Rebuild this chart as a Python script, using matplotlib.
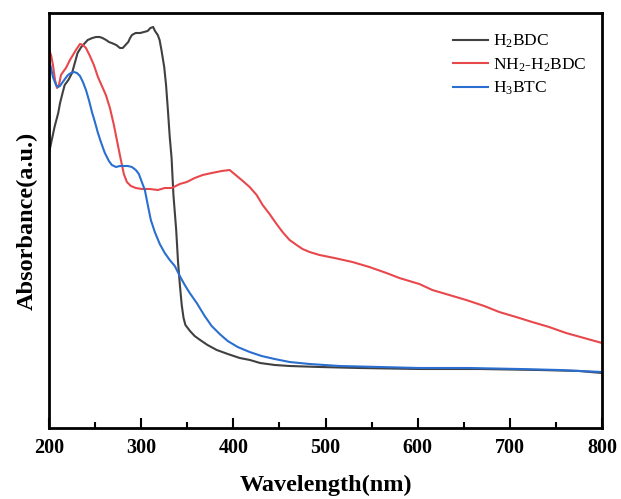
import matplotlib
matplotlib.use("Agg")
import matplotlib.pyplot as plt
from matplotlib.ticker import MultipleLocator

plt.rcParams['font.family'] = ['Liberation Serif', 'DejaVu Serif']
plt.rcParams['mathtext.fontset'] = 'custom'
plt.rcParams['mathtext.rm'] = 'Liberation Serif'
plt.rcParams['mathtext.it'] = 'Liberation Serif:italic'
plt.rcParams['mathtext.bf'] = 'Liberation Serif:bold'

# ---- data ----
wl_h2bdc = [200, 203, 206, 210, 212, 215, 217, 221, 225, 228, 231, 235, 239, 242, 247, 251,
            255, 258, 262, 265, 268, 273, 277, 280, 283, 286, 288, 290, 294, 299, 303, 307,
            310, 313, 315, 318, 320, 322, 325, 327, 329, 331, 333, 335, 338, 340, 342, 344,
            346, 348, 353, 358, 364, 372, 382, 394, 407, 418, 429, 445, 461, 494, 537, 602,
            667, 732, 775, 800]
abs_h2bdc = [2.75, 2.88, 3.01, 3.15, 3.25, 3.36, 3.43, 3.48, 3.55, 3.65, 3.75, 3.81, 3.85, 3.88,
             3.90, 3.91, 3.91, 3.90, 3.88, 3.86, 3.85, 3.83, 3.80, 3.80, 3.83, 3.86, 3.90, 3.93,
             3.95, 3.95, 3.96, 3.97, 4.00, 4.01, 3.97, 3.93, 3.88, 3.78, 3.61, 3.43, 3.18, 2.91,
             2.70, 2.33, 1.98, 1.66, 1.43, 1.23, 1.10, 1.03, 0.97, 0.92, 0.88, 0.83, 0.78, 0.74,
             0.70, 0.68, 0.65, 0.63, 0.62, 0.61, 0.60, 0.59, 0.59, 0.58, 0.57, 0.55]

wl_nh2 = [200, 202.2, 204.3, 206.5, 208.7, 210.8, 213.0, 215.2, 218.4, 222.7, 226.0, 229.2,
          233.6, 236.8, 240.1, 244.4, 248.7, 253.1, 257.4, 261.7, 266.1, 270.4, 274.7, 278.0,
          281.2, 284.5, 288.8, 294.2, 300.7, 309.4, 318.0, 325.6, 333.2, 341.9, 349.5, 358.1,
          366.8, 376.5, 387.4, 396.0, 402.5, 409.0, 417.7, 425.3, 431.8, 439.3, 446.9, 453.4,
          461.0, 468.6, 475.1, 482.7, 493.5, 509.7, 529.2, 547.6, 566.1, 580.1, 601.8, 615.9,
          634.3, 652.7, 672.2, 688.5, 706.8, 724.2, 742.6, 761.0, 780.5, 800]
abs_nh2 = [3.78, 3.73, 3.63, 3.48, 3.40, 3.43, 3.53, 3.56, 3.60, 3.68, 3.73, 3.78, 3.84, 3.83,
           3.80, 3.72, 3.63, 3.51, 3.42, 3.33, 3.20, 3.03, 2.83, 2.68, 2.54, 2.46, 2.42, 2.40,
           2.39, 2.39, 2.38, 2.40, 2.40, 2.44, 2.46, 2.50, 2.53, 2.55, 2.57, 2.58, 2.53, 2.48,
           2.41, 2.33, 2.23, 2.14, 2.04, 1.96, 1.88, 1.83, 1.79, 1.76, 1.73, 1.70, 1.66, 1.61,
           1.55, 1.50, 1.44, 1.38, 1.33, 1.28, 1.22, 1.16, 1.11, 1.06, 1.01, 0.95, 0.90, 0.85]

wl_h3btc = [200, 202.2, 204.3, 207.6, 209.7, 211.9, 214.1, 217.3, 220.6, 223.8, 227.1, 230.3,
            233.6, 236.8, 240.1, 243.3, 246.6, 249.8, 253.1, 256.3, 260.6, 265.0, 268.2, 272.6,
            276.9, 281.2, 285.6, 289.9, 294.2, 297.5, 300.7, 304.0, 307.2, 310.5, 314.8, 320.2,
            325.6, 331.0, 336.5, 341.9, 347.3, 352.7, 360.3, 368.9, 376.5, 385.2, 393.9, 404.7,
            417.7, 430.7, 444.8, 461.0, 482.7, 515.2, 558.5, 601.8, 655.9, 710.1, 753.4, 800]
abs_h3btc = [3.68, 3.60, 3.51, 3.43, 3.41, 3.42, 3.45, 3.49, 3.53, 3.55, 3.56, 3.55, 3.52, 3.46,
             3.38, 3.28, 3.16, 3.06, 2.95, 2.86, 2.75, 2.67, 2.63, 2.61, 2.62, 2.62, 2.62, 2.61,
             2.58, 2.54, 2.46, 2.38, 2.23, 2.08, 1.96, 1.84, 1.75, 1.68, 1.62, 1.52, 1.43, 1.35,
             1.25, 1.12, 1.02, 0.94, 0.87, 0.81, 0.76, 0.72, 0.69, 0.66, 0.64, 0.62, 0.61, 0.60,
             0.60, 0.59, 0.58, 0.56]

labels = ['H$_\\mathrm{2}$BDC', 'NH$_\\mathrm{2}$-H$_\\mathrm{2}$BDC', 'H$_\\mathrm{3}$BTC']
colors = ['#404040', '#e8484c', '#2a6fd0']

fig = plt.figure(figsize=(6.21, 4.99), dpi=100)
ax = fig.add_axes([49/621, 71/499, 553/621, 415/499])

ax.plot(wl_h2bdc, abs_h2bdc, color=colors[0], lw=1.5, label=labels[0])
ax.plot(wl_nh2, abs_nh2, color=colors[1], lw=1.5, label=labels[1])
ax.plot(wl_h3btc, abs_h3btc, color=colors[2], lw=1.5, label=labels[2])

ax.set_xlim(200, 800)
ax.set_ylim(0, 4.15)
ax.xaxis.set_major_locator(MultipleLocator(100))
ax.xaxis.set_minor_locator(MultipleLocator(50))
ax.set_yticks([])
ax.tick_params(axis='x', which='major', direction='in', length=7, width=1.5,
               labelsize=14.5, pad=7)
ax.tick_params(axis='x', which='minor', direction='in', length=4, width=1.5)
for lab in ax.get_xticklabels():
    lab.set_fontweight('bold')
for s in ax.spines.values():
    s.set_linewidth(2)

ax.set_xlabel('Wavelength(nm)', fontsize=17.5, fontweight='bold', labelpad=12)
ax.set_ylabel('Absorbance(a.u.)', fontsize=17.5, fontweight='bold', labelpad=8)

leg = ax.legend(loc='upper right', bbox_to_anchor=(1.0, 0.99), frameon=False,
                fontsize=12.5, handlelength=2.0, handletextpad=0.3, labelspacing=0.35)

fig.savefig('out.png', dpi=100)
